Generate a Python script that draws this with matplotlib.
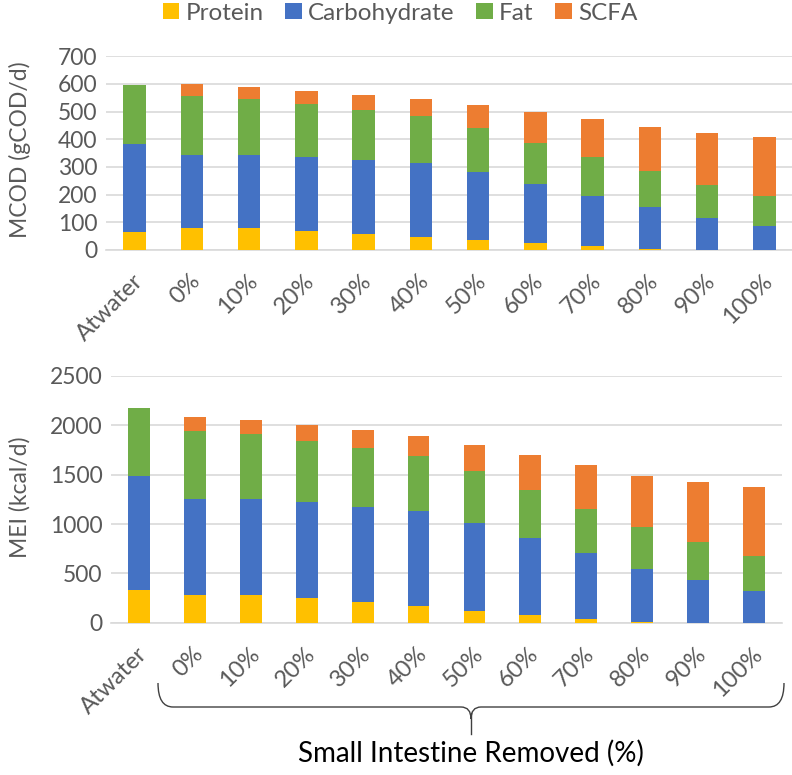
import matplotlib
matplotlib.use("Agg")
import matplotlib.pyplot as plt
from matplotlib.patches import Patch, PathPatch
from matplotlib.path import Path
from matplotlib.transforms import ScaledTranslation
import numpy as np

plt.rcParams['font.family'] = ['Lato', 'DejaVu Sans']

categories = ['Atwater', '0%', '10%', '20%', '30%', '40%', '50%', '60%', '70%', '80%', '90%', '100%']
series_names = ['Protein', 'Carbohydrate', 'Fat', 'SCFA']
colors = ['#FFC000', '#4472C4', '#70AD47', '#ED7D31']

# MCOD (gCOD/d) components
mcod_protein = [65, 78, 78, 69, 58, 46, 36, 24, 14, 4, 1, 1]
mcod_carb    = [318, 265, 265, 267, 267, 267, 245, 215, 182, 150, 116, 86]
mcod_fat     = [213, 215, 203, 192, 181, 173, 160, 149, 140, 130, 119, 108]
mcod_scfa    = [0, 42, 44, 48, 55, 60, 83, 110, 136, 162, 188, 215]

# MEI (kcal/d) components
mei_protein = [332, 281, 281, 250, 207, 166, 122, 81, 38, 3, 2, 2]
mei_carb    = [1156, 974, 974, 971, 966, 967, 889, 775, 666, 542, 428, 316]
mei_fat     = [686, 686, 656, 622, 595, 557, 527, 493, 452, 422, 392, 355]
mei_scfa    = [0, 145, 145, 159, 183, 203, 264, 352, 440, 524, 608, 700]

W, H = 792, 775
fig = plt.figure(figsize=(W / 100, H / 100), dpi=100)

TXT = '#595959'
GRID = '#D9D9D9'


def px_axes(left, top, right, bottom):
    return fig.add_axes([left / W, 1 - bottom / H, (right - left) / W, (bottom - top) / H])


def draw(ax, series, ymax, step):
    x = np.arange(len(categories))
    bottom = np.zeros(len(categories))
    for vals, c in zip(series, colors):
        ax.bar(x, vals, bottom=bottom, width=0.39, color=c, zorder=3, linewidth=0)
        bottom += np.array(vals, dtype=float)
    ax.set_xlim(-0.5, len(categories) - 0.5)
    ax.set_ylim(0, ymax)
    ax.set_yticks(np.arange(0, ymax + 1, step))
    ax.yaxis.grid(True, color=GRID, linewidth=1.2, zorder=0)
    ax.set_axisbelow(True)
    for s in ['top', 'right', 'left']:
        ax.spines[s].set_visible(False)
    ax.spines['bottom'].set_color(GRID)
    ax.spines['bottom'].set_linewidth(1.2)
    ax.tick_params(axis='y', length=0, labelsize=16.5, colors=TXT, pad=6)
    ax.tick_params(axis='x', length=0, labelsize=17, colors=TXT, pad=20)
    ax.set_xticks(x)
    ax.set_xticklabels(categories, rotation=45, ha='right', va='center',
                       rotation_mode='anchor')
    shift = ScaledTranslation(5 / 100, 0, fig.dpi_scale_trans)
    for lab in ax.get_xticklabels():
        lab.set_color(TXT)
        lab.set_transform(lab.get_transform() + shift)


ax1 = px_axes(106, 56.3, 793, 250)
draw(ax1, [mcod_protein, mcod_carb, mcod_fat, mcod_scfa], 700, 100)
ax2 = px_axes(111, 376, 782, 622.7)
draw(ax2, [mei_protein, mei_carb, mei_fat, mei_scfa], 2500, 500)

fig.text(20 / W, 1 - 150 / H, 'MCOD (gCOD/d)', rotation=90, ha='center', va='center',
         fontsize=16.5, color=TXT)
fig.text(20 / W, 1 - 497 / H, 'MEI (kcal/d)', rotation=90, ha='center', va='center',
         fontsize=16.5, color=TXT)

handles = [Patch(facecolor=c, edgecolor='none') for c in colors]
fig.legend(handles, series_names, loc='center', bbox_to_anchor=(400 / W, 1 - 13 / H),
           ncol=4, frameon=False, fontsize=17.5, handlelength=0.68, handleheight=0.68,
           handletextpad=0.25, columnspacing=0.9, labelcolor=TXT)


# curly brace under the removal-percentage labels (pixel coords, y down)
def P(x, y):
    return (x / W, 1 - y / H)


verts = [P(158, 683), P(158, 707), P(173, 707), P(461, 707), P(471, 707), P(471, 719),
         P(471, 707), P(481, 707), P(769, 707), P(784, 707), P(784, 683)]
codes = [Path.MOVETO, Path.CURVE3, Path.CURVE3, Path.LINETO, Path.CURVE3, Path.CURVE3,
         Path.CURVE3, Path.CURVE3, Path.LINETO, Path.CURVE3, Path.CURVE3]
brace = PathPatch(Path(verts, codes), transform=fig.transFigure, facecolor='none',
                  edgecolor='#404040', linewidth=1.0)
fig.patches.append(brace)
fig.add_artist(plt.Line2D([471 / W, 471 / W], [1 - 713 / H, 1 - 734 / H],
                          transform=fig.transFigure, color='#404040', linewidth=1.0))

fig.text(471 / W, 1 - 753 / H, 'Small Intestine Removed (%)', ha='center', va='center',
         fontsize=20, color='black')

fig.savefig('out.png', dpi=100)
